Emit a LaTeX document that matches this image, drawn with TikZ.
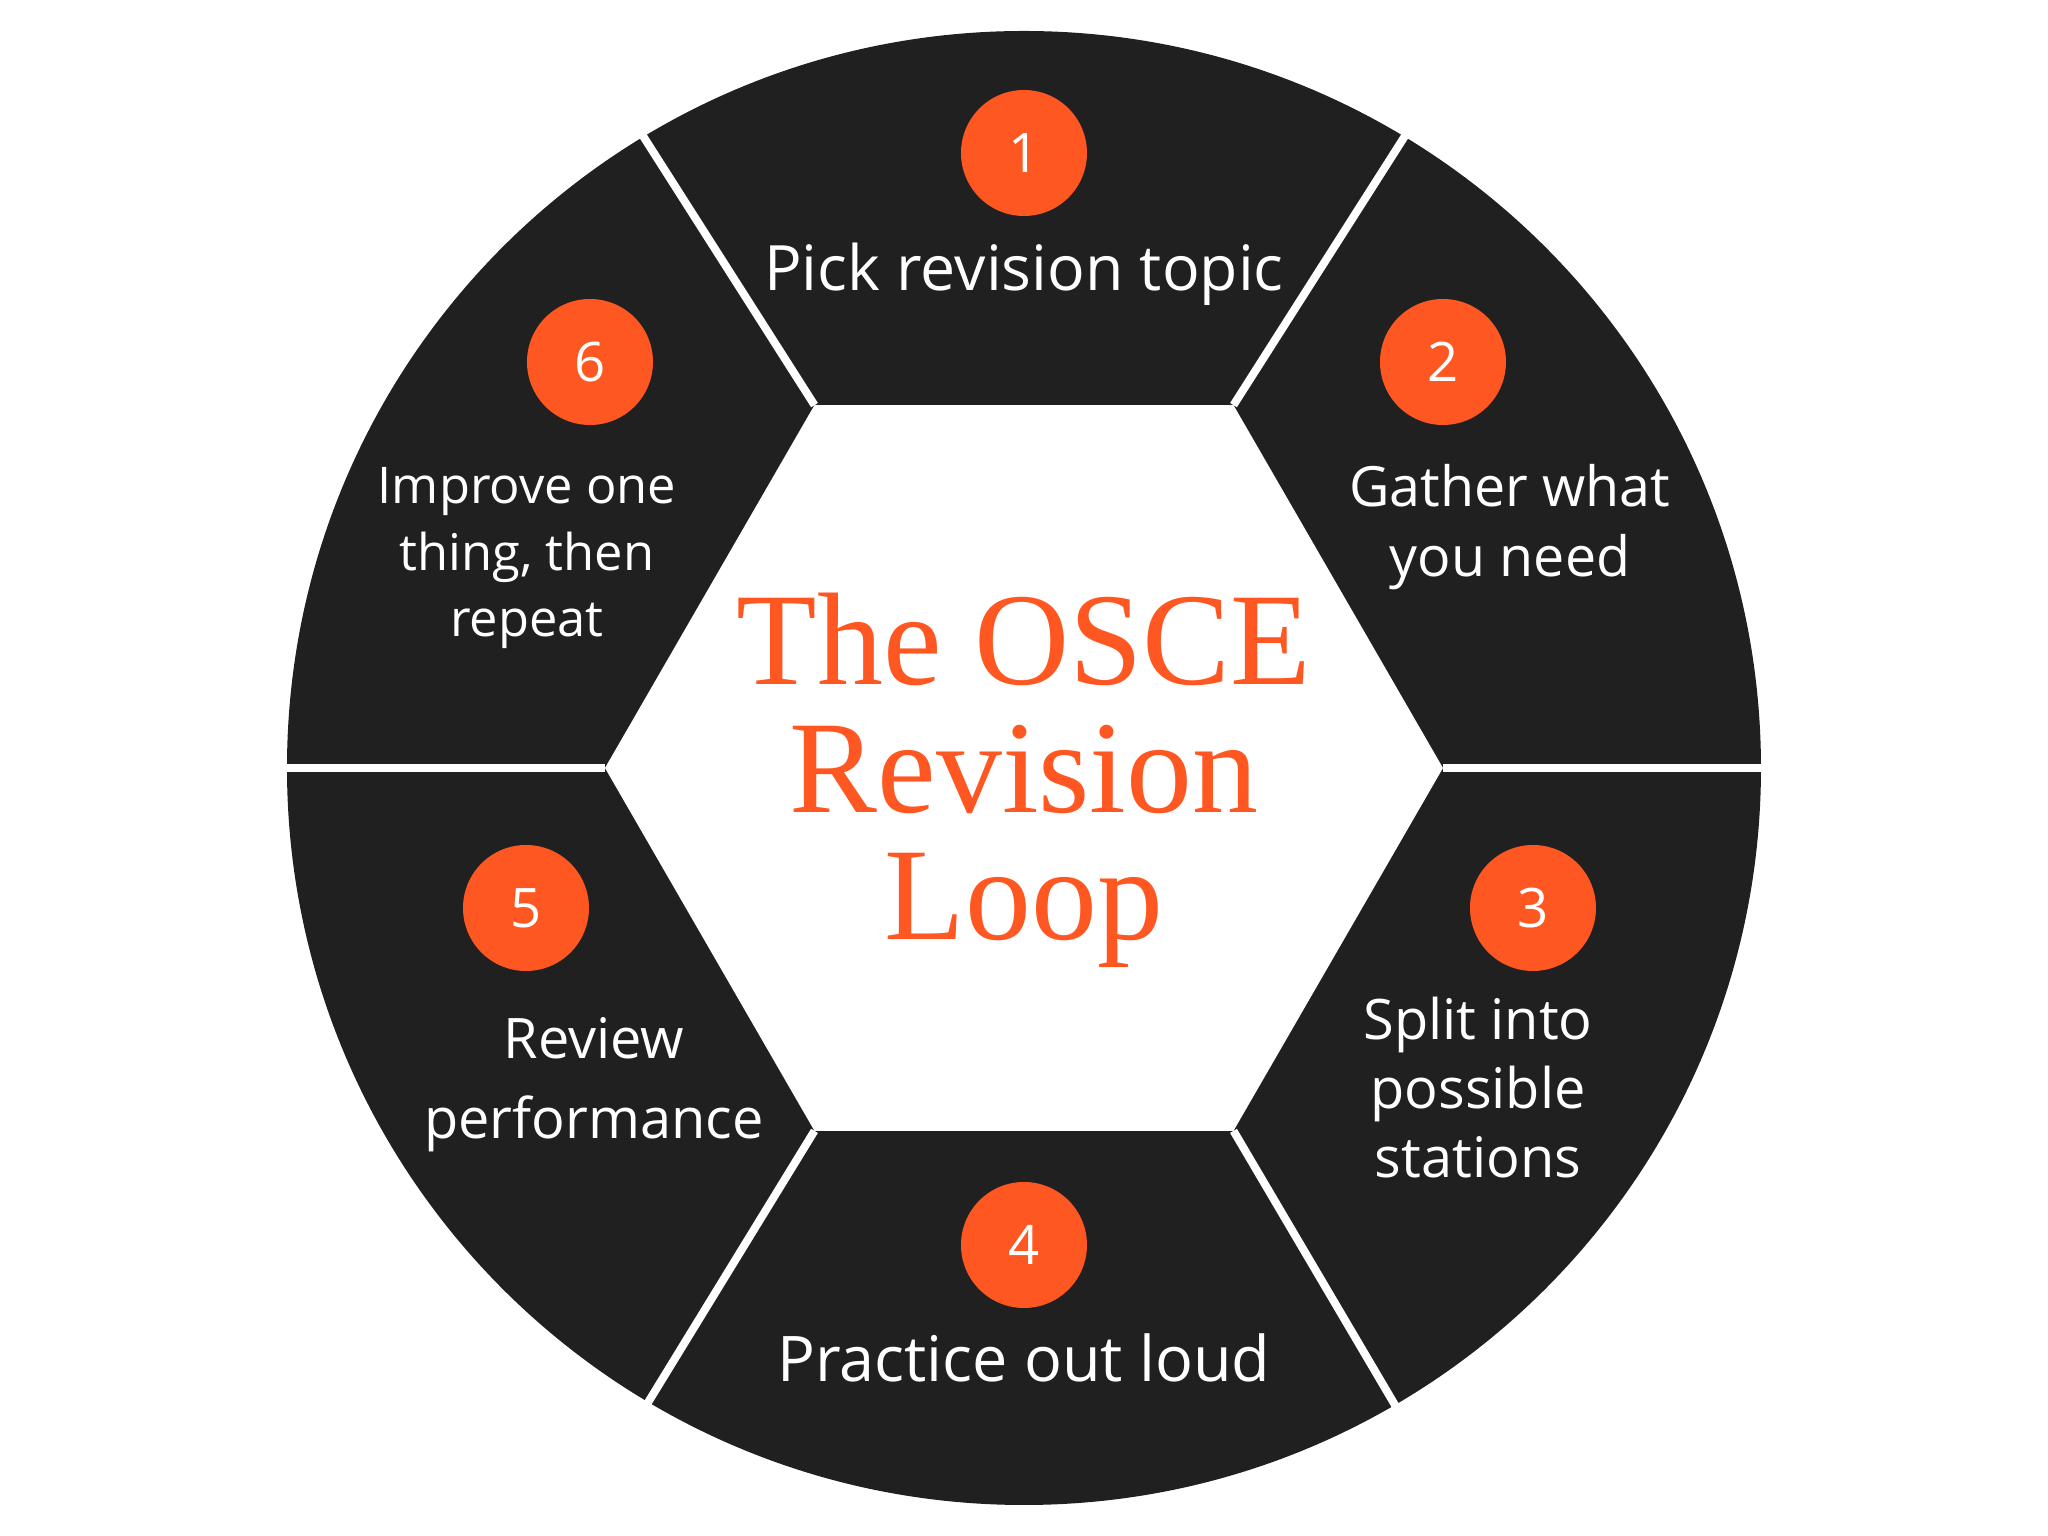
\documentclass[tikz,border=0pt]{standalone}
\usepackage{fontspec}
\setmainfont{Open Sans}
\newfontfamily\titlefont{Liberation Serif}
\usetikzlibrary{shapes.geometric}
\definecolor{ringdark}{HTML}{202020}
\definecolor{osceorange}{HTML}{FF5722}

\begin{document}
\begin{tikzpicture}
  \tikzstyle{num}=[circle, fill=osceorange, text=white, minimum size=1.26cm, inner sep=0pt, font=\fontsize{15.5}{18}\selectfont];
  \tikzstyle{lbl}=[text=white, align=center, anchor=base, inner sep=0pt];
  \tikzstyle{gap}=[draw=white, line width=0.08cm];

  \fill[white] (-10.24,-7.68) rectangle (10.24,7.68);
  \useasboundingbox (-10.24,-7.68) rectangle (10.24,7.68);

  % ring and inner hexagon
  \fill[ringdark] (0,0) circle (7.37);
  \node[regular polygon, regular polygon sides=6, minimum size=8.38cm, inner sep=0pt, outer sep=0pt, fill=white] (hex) at (0,0) {};
  \foreach \a/\b in {0/0, 60/57.5, 120/122.5, 180/180, 240/238.5, 300/300.5}
    \draw[gap] (\a:4.19) -- ++(\b:3.5);

  % title (base = last line)
  \node[text=osceorange, align=center, anchor=base, inner sep=0pt, font=\titlefont\fontsize{37.5}{36.4}\selectfont] (title) at (0,-1.72) {The OSCE\\Revision\\Loop};

  % numbers
  \node[num] (n1) at (0,6.15) {1};
  \node[num] (n2) at (4.19,4.06) {2};
  \node[num] (n3) at (5.09,-1.40) {3};
  \node[num] (n4) at (0,-4.77) {4};
  \node[num] (n5) at (-4.98,-1.40) {5};
  \node[num] (n6) at (-4.34,4.06) {6};

  % step texts
  \node[lbl, font=\fontsize{17.8}{20}\selectfont] (t1) at (0,4.77) {Pick revision topic};
  \node[lbl, font=\fontsize{15.8}{20}\selectfont] (t2) at (4.86,1.91) {Gather what\\you need};
  \node[lbl, font=\fontsize{15.9}{19.7}\selectfont] (t3) at (4.54,-4.10) {Split into\\possible\\stations};
  \node[lbl, font=\fontsize{17.9}{21}\selectfont] (t4) at (0,-6.14) {Practice out loud};
  \node[lbl, font=\fontsize{15.9}{23}\selectfont] (t5) at (-4.30,-3.71) {Review\\performance};
  \node[lbl, font=\fontsize{14.4}{19}\selectfont] (t6) at (-4.97,1.31) {Improve one\\thing, then\\repeat};
\end{tikzpicture}
\end{document}
